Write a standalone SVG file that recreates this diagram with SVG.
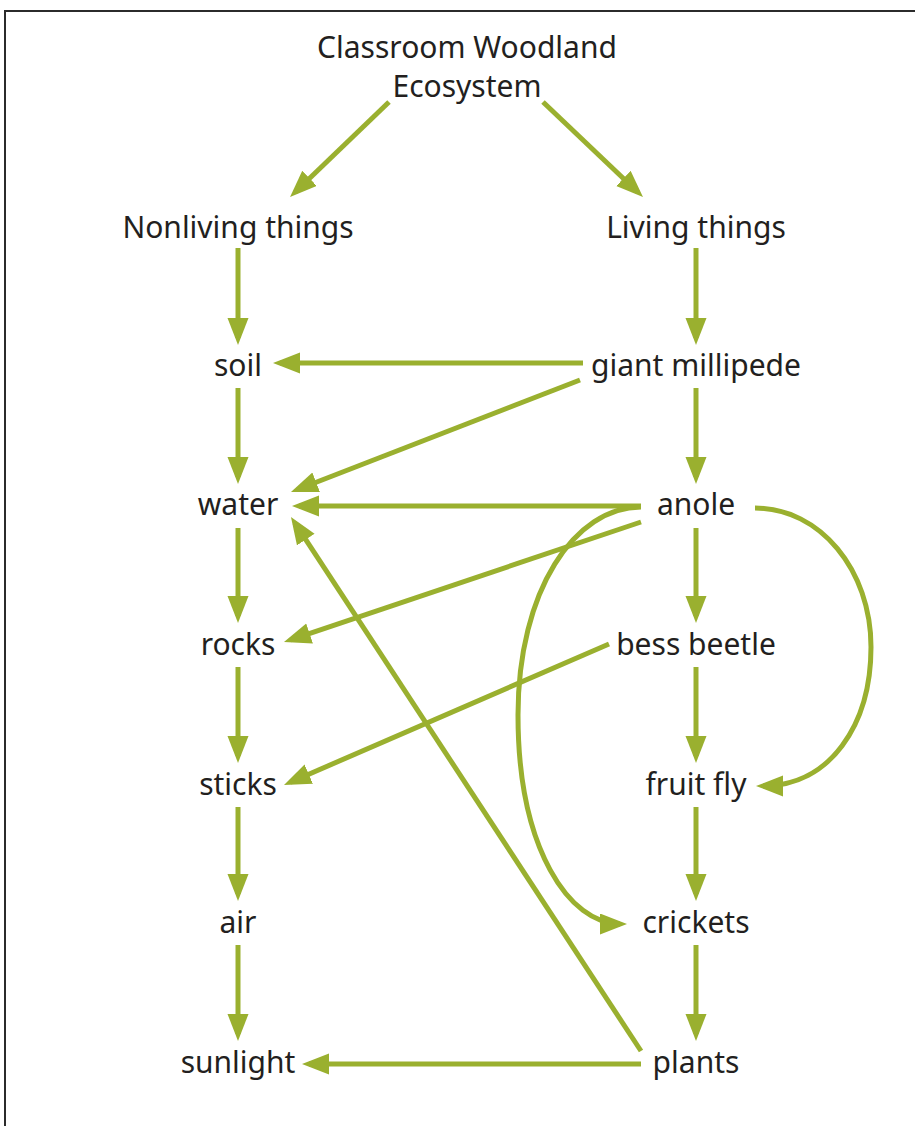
<svg xmlns="http://www.w3.org/2000/svg" width="915" height="1126" viewBox="0 0 915 1126">
<style>
.t{font-family:"Noto Sans","Open Sans",sans-serif;font-size:30px;fill:#231f20;text-anchor:middle}
.c{fill:none;stroke:#9ab02f;stroke-width:5;marker-end:url(#ah)}
</style>
<defs>
<marker id="ah" markerUnits="userSpaceOnUse" markerWidth="28" markerHeight="22" refX="20" refY="10.5" orient="auto">
<path d="M0,0 L27,10.5 L0,21 Z" fill="#9ab02f"/>
</marker>
</defs>
<rect width="915" height="1126" fill="#fff"/>
<rect x="5" y="11" width="930" height="1140" fill="none" stroke="#2b2b2b" stroke-width="2"/>
<g id="connectors">
<line class="c" x1="389" y1="102" x2="295.1" y2="192.2"/>
<line class="c" x1="543" y1="102" x2="637.9" y2="192.2"/>
<line class="c" x1="238" y1="248" x2="238" y2="338"/>
<line class="c" x1="238" y1="388" x2="238" y2="477"/>
<line class="c" x1="238" y1="528" x2="238" y2="616"/>
<line class="c" x1="238" y1="667" x2="238" y2="756"/>
<line class="c" x1="238" y1="807" x2="238" y2="894"/>
<line class="c" x1="238" y1="945" x2="238" y2="1034"/>
<line class="c" x1="696" y1="248" x2="696" y2="338"/>
<line class="c" x1="696" y1="388" x2="696" y2="477"/>
<line class="c" x1="696" y1="528" x2="696" y2="616"/>
<line class="c" x1="696" y1="667" x2="696" y2="756"/>
<line class="c" x1="696" y1="807" x2="696" y2="894"/>
<line class="c" x1="696" y1="945" x2="696" y2="1034"/>
<line class="c" x1="583" y1="363" x2="280" y2="363"/>
<line class="c" x1="580" y1="380" x2="297.5" y2="489.5"/>
<line class="c" x1="641" y1="506" x2="299" y2="506"/>
<line class="c" x1="641" y1="522" x2="290.6" y2="639.8"/>
<line class="c" x1="609" y1="644" x2="290.4" y2="782.2"/>
<line class="c" x1="641" y1="1051" x2="294.8" y2="522.9"/>
<line class="c" x1="641" y1="1064" x2="309" y2="1064"/>
<path class="c" d="M641,507 C575,507 518,590 518,715 C518,850 570,924 620,924"/>
<path class="c" d="M755,508 C820,508 871,570 871,647 C871,725 830,786 763,786"/>
</g>
<g id="title"><text class="t" x="467" y="58">Classroom Woodland</text><text class="t" x="467" y="97">Ecosystem</text></g>
<g id="nonliving"><text class="t" x="238" y="238">Nonliving things</text></g>
<g id="living"><text class="t" x="696" y="238">Living things</text></g>
<g id="soil"><text class="t" x="238" y="376">soil</text></g>
<g id="millipede"><text class="t" x="696" y="376">giant millipede</text></g>
<g id="water"><text class="t" x="238" y="515">water</text></g>
<g id="anole"><text class="t" x="696" y="515">anole</text></g>
<g id="rocks"><text class="t" x="238" y="655">rocks</text></g>
<g id="beetle"><text class="t" x="696" y="655">bess beetle</text></g>
<g id="sticks"><text class="t" x="238" y="795">sticks</text></g>
<g id="fruitfly"><text class="t" x="696" y="795">fruit fly</text></g>
<g id="air"><text class="t" x="238" y="933">air</text></g>
<g id="crickets"><text class="t" x="696" y="933">crickets</text></g>
<g id="sunlight"><text class="t" x="238" y="1073">sunlight</text></g>
<g id="plants"><text class="t" x="696" y="1073">plants</text></g>
</svg>
